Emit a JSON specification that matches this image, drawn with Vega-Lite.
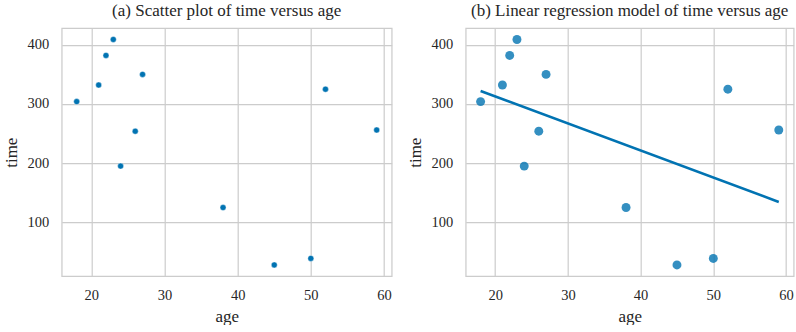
{
  "$schema": "https://vega.github.io/schema/vega-lite/v6.json",
  "padding": {"left": 1.7, "top": 1.2, "right": 0, "bottom": 0},
  "background": "white",
  "datasets": {
    "runners": [
      {"age": 18, "time": 304},
      {"age": 21, "time": 332},
      {"age": 22, "time": 382},
      {"age": 23, "time": 409},
      {"age": 24, "time": 195},
      {"age": 26, "time": 254},
      {"age": 27, "time": 350},
      {"age": 38, "time": 125},
      {"age": 45, "time": 28},
      {"age": 50, "time": 39},
      {"age": 52, "time": 325},
      {"age": 59, "time": 256}
    ]
  },
  "bounds": "flush",
  "spacing": 74,
  "hconcat": [
    {
      "title": "(a) Scatter plot of time versus age",
      "width": 330,
      "height": 248,
      "data": {"name": "runners"},
      "mark": {"type": "point", "filled": true, "size": 36, "color": "#0173B2", "opacity": 1, "stroke": "white", "strokeWidth": 0.4},
      "encoding": {
        "x": {"field": "age", "type": "quantitative", "title": "age",
              "scale": {"domain": [15.95, 61.05], "nice": false, "zero": false},
              "axis": {"values": [20, 30, 40, 50, 60]}},
        "y": {"field": "time", "type": "quantitative", "title": "time",
              "scale": {"domain": [8.95, 428.05], "nice": false, "zero": false},
              "axis": {"values": [100, 200, 300, 400]}}
      }
    },
    {
      "title": "(b) Linear regression model of time versus age",
      "width": 328,
      "height": 248,
      "data": {"name": "runners"},
      "encoding": {
        "x": {"field": "age", "type": "quantitative", "title": "age",
              "scale": {"domain": [15.95, 61.05], "nice": false, "zero": false},
              "axis": {"values": [20, 30, 40, 50, 60]}},
        "y": {"field": "time", "type": "quantitative", "title": "time",
              "scale": {"domain": [8.95, 428.05], "nice": false, "zero": false},
              "axis": {"values": [100, 200, 300, 400]}}
      },
      "layer": [
        {
          "mark": {"type": "point", "filled": true, "size": 80, "color": "#0173B2", "opacity": 0.8}
        },
        {
          "transform": [{"regression": "time", "on": "age", "extent": [18, 59]}],
          "mark": {"type": "line", "color": "#0173B2", "strokeWidth": 2.6}
        }
      ]
    }
  ],
  "config": {
    "font": "Liberation Serif",
    "view": {"stroke": "#cccccc", "strokeWidth": 1.25},
    "title": {"font": "Liberation Serif", "fontSize": 17, "fontWeight": "normal", "color": "#262626", "baseline": "alphabetic", "offset": 8, "anchor": "middle"},
    "axis": {
      "domain": false,
      "ticks": false,
      "grid": true,
      "gridColor": "#cccccc",
      "gridWidth": 1.2,
      "labelFont": "Liberation Serif",
      "labelFontSize": 14.5,
      "labelColor": "#262626",
      "titleFont": "Liberation Serif",
      "titleFontSize": 17,
      "titleFontWeight": "normal",
      "titleColor": "#262626"
    },
    "axisX": {"labelPadding": 12, "titleBaseline": "alphabetic", "titleY": 45},
    "axisY": {"labelPadding": 13, "titleBaseline": "alphabetic", "titleX": -45}
  }
}
